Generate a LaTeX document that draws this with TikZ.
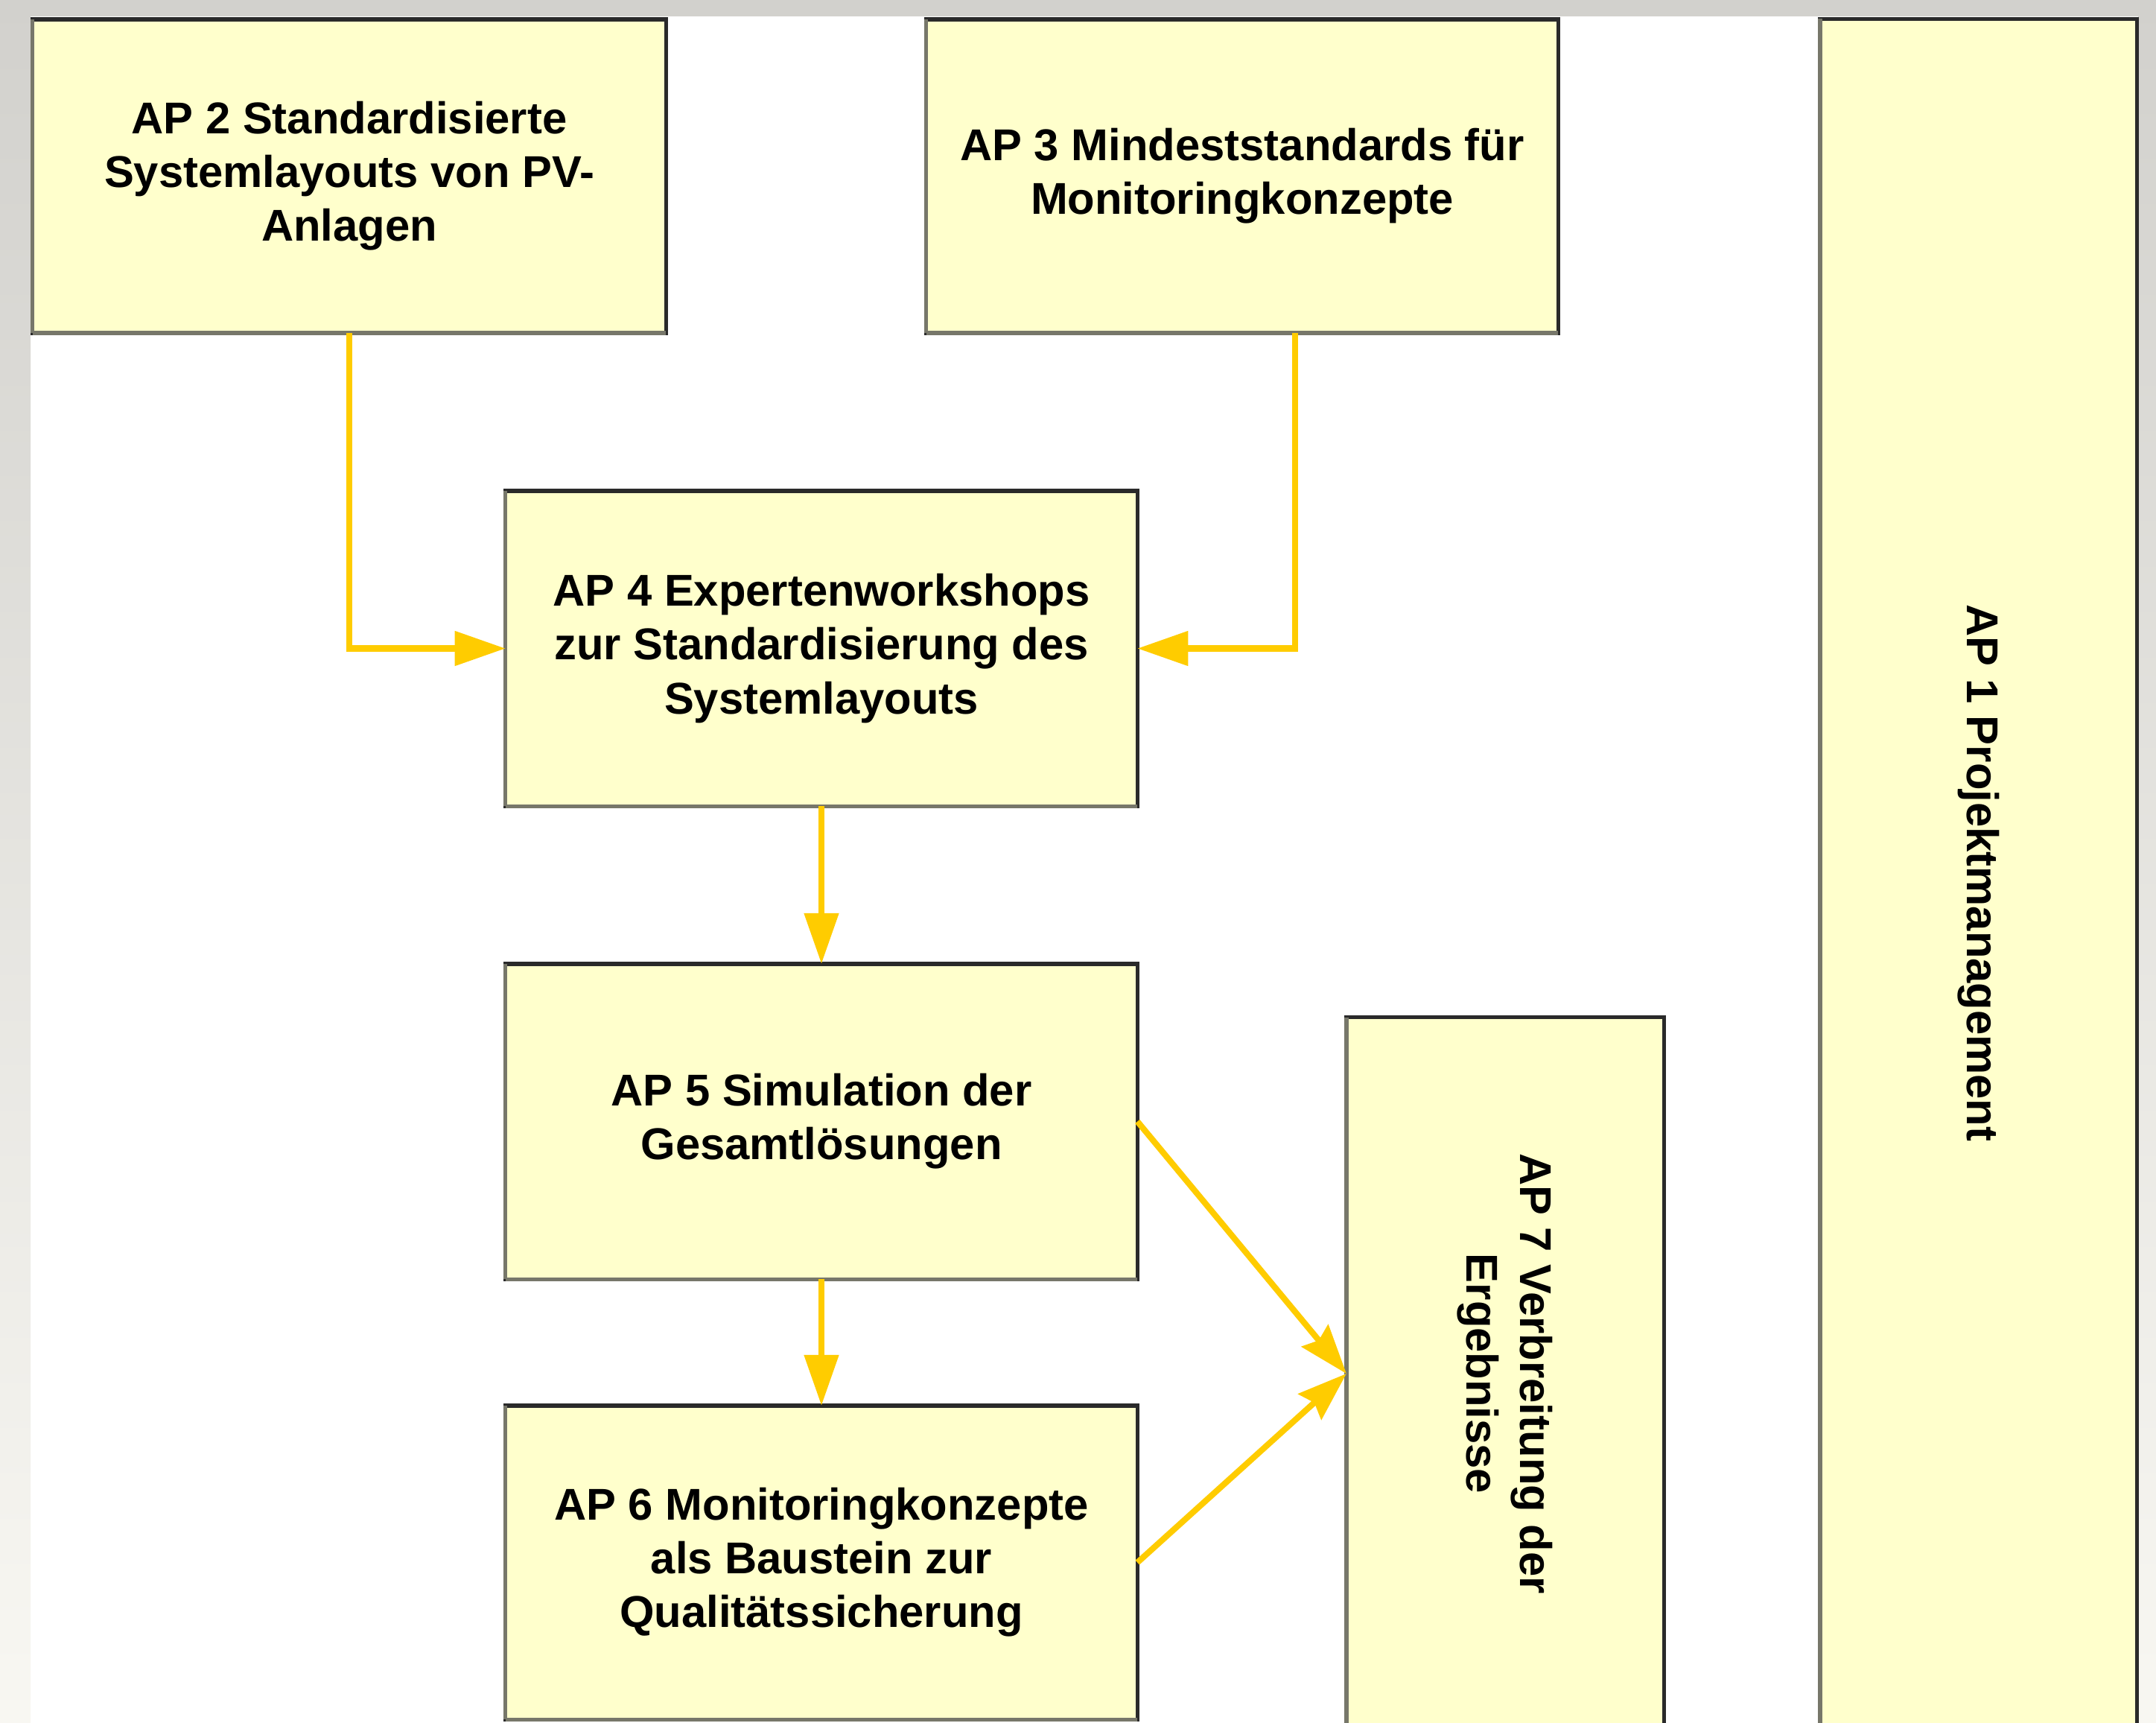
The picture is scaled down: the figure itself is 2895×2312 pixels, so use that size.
\documentclass[tikz,border=0pt]{standalone}
\usepackage{fontspec}
\setmainfont{Liberation Sans}
\usetikzlibrary{arrows.meta}
\definecolor{boxfill}{HTML}{FFFFCC}
\definecolor{edgedark}{HTML}{2A2A2A}
\definecolor{edgelight}{HTML}{77776A}
\definecolor{flow}{HTML}{FFCC00}
\definecolor{frametop}{HTML}{D2D1CD}
\definecolor{framebot}{HTML}{F8F7F2}
\tikzset{
  apbox/.style={draw=edgedark, fill=boxfill, line width=1.5pt, inner sep=0pt, outer sep=0pt,
    align=center, font=\bfseries\fontsize{17}{20.5}\selectfont,
    append after command={\pgfextra{\let\apn\tikzlastnode}
      (\apn.north west) edge[draw=edgelight, line width=1.5pt] (\apn.south west)
      (\apn.south west) edge[draw=edgelight, line width=1.5pt] (\apn.south east)}},
  aptext/.style={align=center, inner sep=0pt, font=\bfseries\fontsize{17}{20.5}\selectfont},
  flowline/.style={draw=flow, line width=2.3pt, -{Triangle[length=0.68cm, width=0.45cm]}},
  flowdiag/.style={draw=flow, line width=2.3pt, -{Stealth[length=0.66cm, width=0.46cm, inset=0.08cm]}},
}
\begin{document}
\begin{tikzpicture}[x=0.01cm, y=-0.01cm]
\useasboundingbox (0,0) rectangle (2895,2312);
% window frame
\fill[white] (0,0) rectangle (2895,2312);
\shade[top color=frametop, bottom color=framebot] (0,0) rectangle (41,2312);
\shade[top color=frametop, bottom color=framebot] (2871,0) rectangle (2895,2312);
\fill[frametop] (0,0) rectangle (2895,22);

% boxes
\node[apbox, minimum width=8.50cm, minimum height=4.21cm] (ap2) at (469,236.5)
  {AP 2 Standardisierte\\Systemlayouts von PV-\\Anlagen};
\node[apbox, minimum width=8.48cm, minimum height=4.21cm] (ap3) at (1668,236.5)
  {AP 3 Mindeststandards für\\Monitoringkonzepte};
\node[apbox, minimum width=4.25cm, minimum height=22.92cm] (ap1) at (2656.5,1172) {};
\node[aptext, rotate=-90] (ap1t) at (ap1.center) {AP 1 Projektmanagement};
\node[apbox, minimum width=8.48cm, minimum height=4.23cm] (ap4) at (1103,870.5)
  {AP 4 Expertenworkshops\\zur Standardisierung des\\Systemlayouts};
\node[apbox, minimum width=8.48cm, minimum height=4.23cm] (ap5) at (1103,1505.5)
  {AP 5 Simulation der\\Gesamtlösungen};
\node[apbox, minimum width=8.48cm, minimum height=4.21cm] (ap6) at (1103,2097.5)
  {AP 6 Monitoringkonzepte\\als Baustein zur\\Qualitätssicherung};
\node[apbox, minimum width=4.26cm, minimum height=9.56cm] (ap7) at (2021,1844) {};
\node[aptext, rotate=-90] (ap7t) at (ap7.center) {AP 7 Verbreitung der\\Ergebnisse};

% connectors
\draw[flowline] (ap2.south) |- (ap4.west);
\draw[flowline] ([xshift=0.71cm]ap3.south) |- (ap4.east);
\draw[flowline] (ap4.south) -- (ap5.north);
\draw[flowline] (ap5.south) -- (ap6.north);
\draw[flowdiag] (ap5.east) -- (ap7.west);
\draw[flowdiag] (ap6.east) -- (ap7.west);
\end{tikzpicture}
\end{document}
